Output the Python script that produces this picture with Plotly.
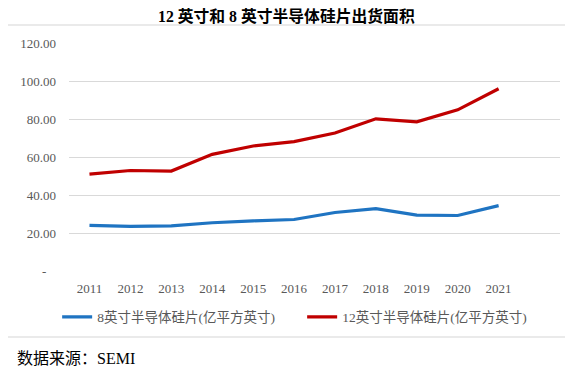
import plotly.graph_objects as go

years = ["2011", "2012", "2013", "2014", "2015", "2016", "2017", "2018", "2019", "2020", "2021"]
wafer_8in = [24.0, 23.5, 23.8, 25.4, 26.4, 27.1, 30.8, 32.8, 29.4, 29.2, 34.4]
wafer_12in = [51.0, 52.9, 52.6, 61.4, 65.8, 68.1, 72.6, 80.1, 78.5, 84.8, 95.9]
name_8in = "8英寸半导体硅片(亿平方英寸)"
name_12in = "12英寸半导体硅片(亿平方英寸)"
title_text = "<b>12 英寸和 8 英寸半导体硅片出货面积</b>"
source_text = "数据来源：SEMI"
y_ticks = [0, 20, 40, 60, 80, 100, 120]
y_ticktext = ["-\u00a0\u00a0\u00a0", "20.00", "40.00", "60.00", "80.00", "100.00", "120.00"]

FONT = "Liberation Serif, Times New Roman, Noto Sans CJK SC, serif"
GREY = "#595959"

fig = go.Figure()
fig.add_trace(go.Scatter(x=years, y=wafer_8in, mode="lines", name=name_8in,
                         line=dict(color="#1F74C2", width=3.2)))
fig.add_trace(go.Scatter(x=years, y=wafer_12in, mode="lines", name=name_12in,
                         line=dict(color="#C00000", width=3.2)))

# The page body has an 8px margin, so the figure is drawn 8px in from the window edge.
OFF = 8
W, H = 573 - OFF, 371 - OFF
ml, mr, mt, mb = 55, 13, 35, 100
pw, ph = W - ml - mr, H - mt - mb

def px_to_paper_x(px):  # px in window coordinates
    return (px - OFF - ml) / pw

def px_to_paper_y(py):
    return (H - mb - (py - OFF)) / ph

fig.update_layout(
    width=W, height=H,
    margin=dict(l=ml, r=mr, t=mt, b=mb),
    paper_bgcolor="white", plot_bgcolor="white",
    font=dict(family=FONT, size=13, color=GREY),
    title=dict(text=title_text, x=px_to_paper_x(283), xref="paper", xanchor="center",
               y=1 - (16.5 - OFF) / H, yanchor="middle", yref="container",
               font=dict(family=FONT, size=15.8, color="#000000")),
    showlegend=True,
    legend=dict(orientation="h", x=px_to_paper_x(51), xanchor="left",
                y=px_to_paper_y(317), yanchor="middle",
                font=dict(family=FONT, size=13.5, color=GREY),
                itemwidth=30, entrywidth=200, entrywidthmode="pixels",
                tracegroupgap=0, bgcolor="rgba(0,0,0,0)"),
    xaxis=dict(type="category", range=[-0.5, 11.5], showgrid=False, showline=False,
               zeroline=False, ticks="", tickfont=dict(family=FONT, size=13, color=GREY),
               ticklabelstandoff=8, fixedrange=True),
    yaxis=dict(range=[0, 120], tickvals=y_ticks, ticktext=y_ticktext, showgrid=True,
               gridcolor="#D9D9D9", gridwidth=1, zeroline=False, showline=False,
               ticks="", tickfont=dict(family=FONT, size=13, color=GREY),
               ticklabelstandoff=12, fixedrange=True),
    hovermode=False,
)

# separator lines (top and bottom)
for py in (25, 337):
    fig.add_shape(type="line", xref="paper", yref="paper",
                  x0=px_to_paper_x(0), x1=px_to_paper_x(573),
                  y0=px_to_paper_y(py), y1=px_to_paper_y(py),
                  line=dict(color="#E3E3E3", width=1.5))

fig.add_annotation(text=source_text, xref="paper", yref="paper",
                   x=px_to_paper_x(8), xanchor="left",
                   y=px_to_paper_y(359), yanchor="middle", showarrow=False,
                   font=dict(family=FONT, size=16, color="#000000"))

fig.write_html("out.html")
